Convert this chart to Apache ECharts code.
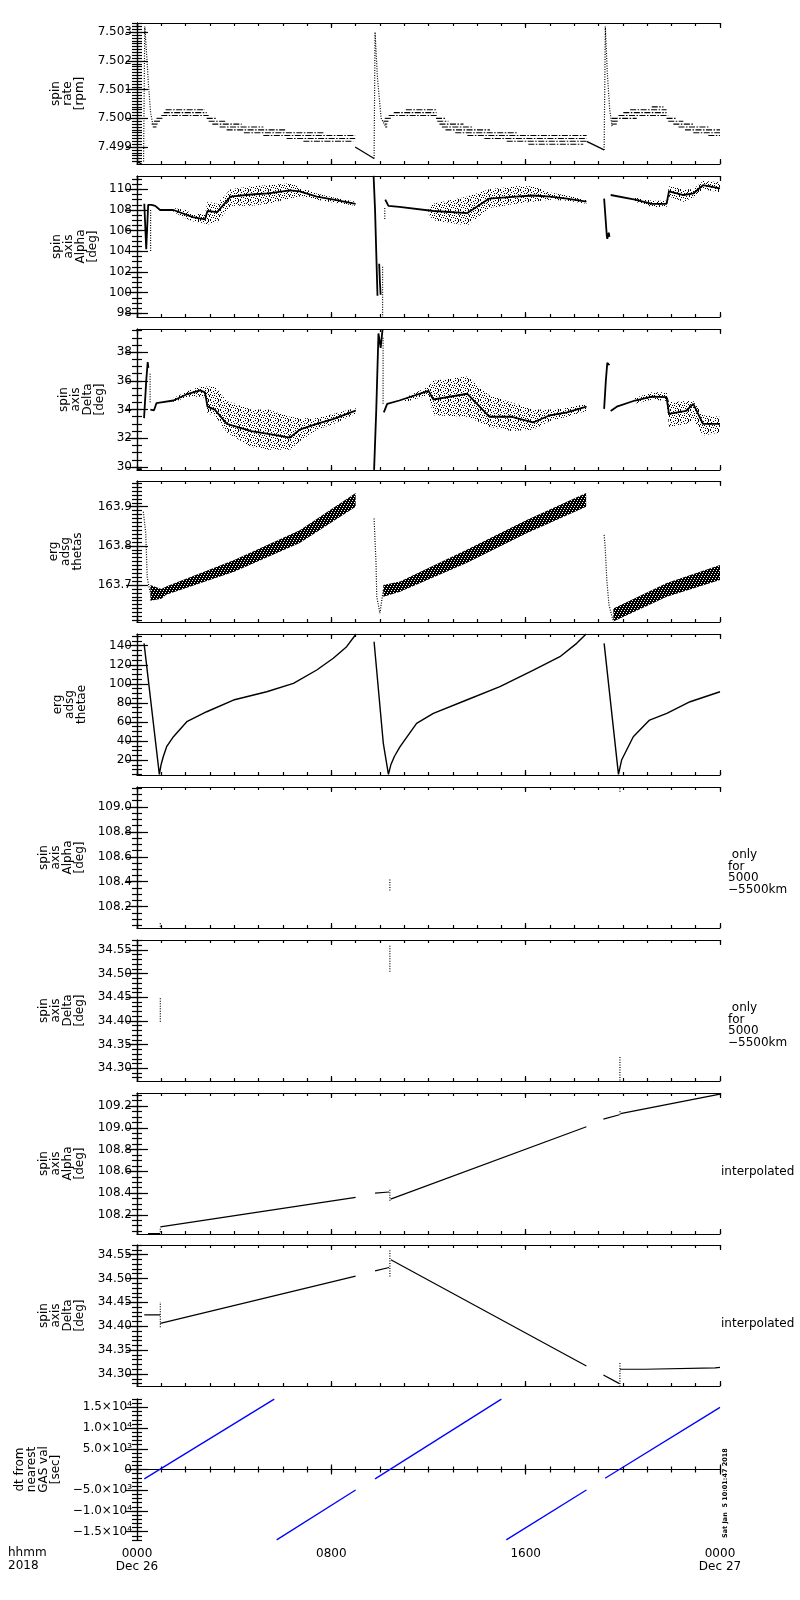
<!DOCTYPE html>
<html>
<head>
<meta charset="utf-8">
<script src="https://cdn.jsdelivr.net/npm/echarts@6/dist/echarts.min.js"></script>
<style>
  html, body { margin: 0; background: #fff; }
  #chart { width: 800px; height: 1600px; }
</style>
</head>
<body>
<div id="chart"></div>
<script>
// ---- time axis (hours since 0000 Dec 26) ----
const hours = [0, 8, 16, 24];
const hourLabels = ['0000\nDec 26', '0800', '1600', '0000\nDec 27'];

// ---- tick labels ----
const rateTicks = [7.499, 7.500, 7.501, 7.502, 7.503];
const alphaTicks = [98, 100, 102, 104, 106, 108, 110];
const deltaTicks = [30, 32, 34, 36, 38];
const thetasTicks = [163.7, 163.8, 163.9];
const thetaeTicks = [20, 40, 60, 80, 100, 120, 140];
const alphaOnlyTicks = [108.2, 108.4, 108.6, 108.8, 109.0];
const deltaOnlyTicks = [34.30, 34.35, 34.40, 34.45, 34.50, 34.55];
const alphaInterpTicks = [108.2, 108.4, 108.6, 108.8, 109.0, 109.2];
const dtTicks = [-15000, -10000, -5000, 0, 5000, 10000, 15000];
const dtTickLabels = ['\u22121.5\u00d710\u2074', '\u22121.0\u00d710\u2074', '\u22125.0\u00d710\u00b3', '0',
  '5.0\u00d710\u00b3', '1.0\u00d710\u2074', '1.5\u00d710\u2074'];

// ---- spin rate: quantized rows [start h, end h, rpm] ----
const rateRows = [
  [1.18, 2.8, 7.5003], [1.1, 2.87, 7.5002], [1.0, 2.95, 7.5001],
  [0.8, 1.1, 7.5000], [2.87, 3.28, 7.5000],
  [0.7, 1.0, 7.4999], [2.95, 3.69, 7.4999],
  [0.6, 0.85, 7.4998], [3.1, 4.31, 7.4998],
  [0.65, 0.8, 7.4997], [3.4, 5.2, 7.4997],
  [3.69, 6.16, 7.4996],
  [4.4, 7.67, 7.4995],
  [5.2, 8.98, 7.4994],
  [6.16, 8.98, 7.4993],
  [6.85, 8.9, 7.4992],
  [11.07, 12.31, 7.5003], [10.57, 12.33, 7.5002], [10.36, 12.36, 7.5001],
  [10.2, 10.45, 7.5000], [12.31, 12.68, 7.5000],
  [10.15, 10.35, 7.4999], [12.36, 12.82, 7.4999],
  [10.2, 10.3, 7.4998], [12.45, 13.44, 7.4998],
  [10.22, 10.3, 7.4997], [12.55, 13.85, 7.4997],
  [12.7, 14.53, 7.4996],
  [13.1, 15.63, 7.4995],
  [13.6, 18.51, 7.4994],
  [14.3, 18.51, 7.4993],
  [15.22, 18.51, 7.4992],
  [16.11, 18.37, 7.4991],
  [21.19, 21.67, 7.5004],
  [20.3, 21.8, 7.5003], [20.02, 21.8, 7.5002], [19.82, 21.87, 7.5001],
  [19.54, 20.57, 7.5000], [21.8, 22.22, 7.5000],
  [19.54, 19.82, 7.4999], [21.87, 22.49, 7.4999],
  [19.54, 19.75, 7.4998], [22.08, 22.9, 7.4998],
  [22.29, 23.52, 7.4997],
  [22.56, 24, 7.4996],
  [22.9, 24, 7.4995],
  [23.52, 24, 7.4994]
];
const rateSlopes = [
  [[0, 7.4985], [0.2, 7.4984]],
  [[8.98, 7.4990], [9.76, 7.4986]],
  [[18.51, 7.4992], [19.23, 7.4989]]
];
const rateSpikes = [
  [[0.27, 7.4985], [0.32, 7.5032], [0.4, 7.5022], [0.47, 7.5012], [0.56, 7.5002], [0.65, 7.4998]],
  [[9.76, 7.4986], [9.8, 7.5030], [9.9, 7.5014], [10.05, 7.5000], [10.25, 7.4997]],
  [[19.23, 7.4989], [19.28, 7.5032], [19.36, 7.5016], [19.46, 7.5003], [19.56, 7.4997]]
];

// ---- spin axis alpha ----
const alphaLines = [
  [[0.3, 108.6], [0.38, 104.2], [0.46, 108.5], [0.6, 108.5], [0.75, 108.4], [0.95, 108.0], [1.5, 108.0],
   [2.3, 107.3], [2.8, 107.1], [2.9, 107.9], [3.3, 107.8], [3.85, 109.3], [4.7, 109.5], [5.4, 109.6],
   [6.3, 109.9], [6.7, 109.8], [7.4, 109.3], [8.1, 109.0], [9.0, 108.6]],
  [[9.74, 111.3], [9.8, 108.0], [9.86, 103.0], [9.9, 99.7]],
  [[9.97, 102.8], [10.0, 101.0], [10.03, 99.8]],
  [[10.22, 109.0], [10.35, 108.4], [10.8, 108.3], [12.2, 107.9], [13.6, 107.7], [14.5, 109.1],
   [15.6, 109.3], [16.3, 109.4], [17.0, 109.3], [17.7, 109.1], [18.5, 108.8]],
  [[19.23, 109.1], [19.34, 105.5], [19.36, 105.2], [19.42, 105.8], [19.45, 105.4]],
  [[19.5, 109.45], [20.5, 109.0], [21.2, 108.6], [21.8, 108.6], [21.9, 109.8], [22.5, 109.45],
   [22.9, 109.6], [23.3, 110.4], [24, 110.1]]
];
const alphaDots = [
  [[0.56, 108.0], [0.56, 104.0]],
  [[10.11, 102.5], [10.11, 97.6]],
  [[10.2, 108.2], [10.2, 107.0]]
];
const alphaBands = [
  [[1.5, 107.8, 108.2], [2.0, 107.2, 108.0], [2.3, 106.9, 107.6], [2.8, 106.7, 107.6], [2.9, 106.6, 108.8],
   [3.3, 106.8, 108.6], [3.85, 108.4, 110.0], [4.7, 108.4, 110.3], [5.4, 108.6, 110.4], [6.3, 109.1, 110.6],
   [6.7, 109.3, 110.2], [7.4, 109.0, 109.6], [8.1, 108.7, 109.2], [9.0, 108.4, 108.8]],
  [[12.0, 107.6, 108.2], [12.2, 107.0, 108.6], [13.6, 106.5, 109.3], [14.5, 108.2, 110.0], [15.6, 108.6, 110.3],
   [16.3, 108.8, 110.3], [17.0, 109.0, 109.7], [17.7, 108.9, 109.4], [18.5, 108.6, 109.0]],
  [[20.5, 108.8, 109.2], [21.2, 108.3, 108.9], [21.8, 108.3, 108.9], [21.9, 109.3, 110.3], [22.5, 108.8, 110.0],
   [22.9, 109.2, 110.0], [23.3, 110.0, 110.8], [24, 109.7, 110.7]]
];

// ---- spin axis delta ----
const deltaLines = [
  [[0, 29.85], [0.2, 29.85]],
  [[0.29, 33.4], [0.38, 36.0], [0.44, 37.3], [0.47, 36.9]],
  [[0.55, 34.0], [0.7, 33.95], [0.8, 34.44], [1.0, 34.5], [1.5, 34.63], [2.1, 35.1], [2.6, 35.33],
   [2.8, 35.2], [2.9, 34.2], [3.2, 34.0], [3.7, 33.0], [4.7, 32.5], [5.4, 32.3], [6.3, 32.05],
   [6.7, 32.6], [7.4, 33.0], [8.1, 33.35], [9.0, 33.93]],
  [[9.76, 29.8], [9.85, 34.0], [9.94, 39.3], [10.03, 38.3], [10.11, 39.6]],
  [[10.16, 33.8], [10.3, 34.4], [10.8, 34.63], [12.0, 35.3], [12.2, 34.7], [13.6, 35.1], [14.5, 33.5],
   [15.4, 33.5], [16.3, 33.1], [17.0, 33.6], [17.7, 33.8], [18.5, 34.2]],
  [[19.23, 34.05], [19.3, 36.0], [19.36, 37.25], [19.45, 37.1]],
  [[19.5, 33.9], [19.75, 34.2], [20.5, 34.63], [21.2, 34.9], [21.8, 34.86], [21.9, 33.7], [22.6, 33.9],
   [22.9, 34.4], [23.3, 33.0], [24, 33.0]]
];
const deltaDots = [
  [[0.54, 36.5], [0.54, 34.4]],
  [[10.13, 39.0], [10.13, 34.4]]
];
const deltaBands = [
  [[1.5, 34.5, 34.8], [2.1, 34.9, 35.3], [2.6, 34.9, 35.6], [2.85, 34.8, 35.6], [2.9, 33.7, 35.6],
   [3.2, 33.6, 35.6], [3.7, 32.4, 34.6], [4.7, 31.4, 34.0], [5.4, 31.2, 34.0], [6.3, 31.2, 33.5],
   [6.7, 31.8, 33.4], [7.4, 32.6, 33.4], [8.1, 33.0, 33.7], [9.0, 33.7, 34.1]],
  [[11.0, 34.5, 34.8], [12.0, 35.0, 35.6], [12.2, 33.6, 36.0], [13.6, 33.5, 36.3], [14.5, 32.8, 35.0],
   [15.4, 32.5, 34.5], [16.3, 32.6, 34.0], [17.0, 33.2, 34.0], [17.7, 33.5, 34.1], [18.5, 33.9, 34.4]],
  [[20.5, 34.4, 34.8], [21.2, 34.7, 35.2], [21.8, 34.6, 35.2], [21.9, 32.8, 34.5], [22.6, 33.0, 34.6],
   [22.9, 33.3, 34.6], [23.3, 32.2, 33.6], [24, 32.4, 33.5]]
];

// ---- erg adsg thetas ----
const thetasSpikes = [
  [[0.26, 163.887], [0.36, 163.833], [0.42, 163.72], [0.51, 163.69], [0.55, 163.68]],
  [[9.76, 163.87], [9.84, 163.756], [9.87, 163.67], [10.0, 163.628], [10.14, 163.688]],
  [[19.23, 163.828], [19.27, 163.80], [19.34, 163.713], [19.43, 163.649], [19.61, 163.607]]
];
const thetasBands = [
  [[0.55, 163.66, 163.70], [1.0, 163.665, 163.69], [1.2, 163.675, 163.696], [4.0, 163.734, 163.764],
   [6.7, 163.807, 163.84], [9.0, 163.90, 163.935]],
  [[10.14, 163.67, 163.70], [10.83, 163.683, 163.709], [13.57, 163.756, 163.79],
   [16.04, 163.832, 163.866], [18.49, 163.90, 163.935]],
  [[19.61, 163.607, 163.64], [21.81, 163.67, 163.705], [24, 163.713, 163.751]]
];

// ---- erg adsg thetae ----
const thetaeLines = [
  [[0.29, 142.5], [0.92, 5], [0.99, 15], [1.08, 23.5], [1.22, 34], [1.5, 44.5], [2.05, 60.2], [2.87, 70.7],
   [3.97, 83], [5.34, 91.7], [6.44, 100.5], [7.4, 114.5], [8.08, 126.8], [8.63, 139], [9.02, 152.3]],
  [[9.76, 144.2], [10.14, 37.5], [10.35, 5], [10.45, 15], [10.6, 24], [10.83, 34], [11.51, 58.5],
   [12.2, 69], [13.57, 83], [14.94, 97], [16.32, 114.5], [17.41, 128.5], [18.1, 142.5], [18.49, 152.3]],
  [[19.23, 142.5], [19.82, 5], [19.95, 20], [20.43, 44.5], [21.1, 62], [21.81, 69], [22.77, 81.2], [24, 91.7]]
];

// ---- only for 5000-5500km ----
const alphaOnly = [
  [[0.96, 108.04], [0.96, 108.08]],
  [[10.41, 108.33], [10.41, 108.43]],
  [[19.88, 109.12], [19.88, 109.16]]
];
const deltaOnly = [
  [[0.96, 34.398], [0.96, 34.451]],
  [[10.41, 34.504], [10.41, 34.56]],
  [[19.88, 34.274], [19.88, 34.325]]
];

// ---- interpolated ----
const alphaInterp = [
  [[0.45, 108.027], [0.95, 108.027]],
  [[0.96, 108.09], [9.0, 108.36]],
  [[9.8, 108.40], [10.38, 108.41]],
  [[10.44, 108.345], [18.5, 109.01]],
  [[19.2, 109.08], [19.86, 109.12]],
  [[19.9, 109.13], [24, 109.31]]
];
const deltaInterp = [
  [[0.3, 34.424], [0.95, 34.424]],
  [[0.96, 34.406], [9.0, 34.505]],
  [[9.8, 34.516], [10.38, 34.523]],
  [[10.45, 34.539], [18.5, 34.317]],
  [[19.2, 34.298], [19.86, 34.28]],
  [[19.88, 34.31], [20.9, 34.31], [20.95, 34.313], [23.8, 34.313], [23.85, 34.314], [24, 34.314]]
];

// ---- dt from nearest GAS val ----
const dtSegs = [
  [[0.3, -2260], [5.65, 17000]],
  [[5.75, -17000], [9.0, -4940]],
  [[9.8, -2260], [15.0, 17000]],
  [[15.2, -17000], [18.5, -4940]],
  [[19.27, -2100], [24, 15000]]
];

// ---- layout ----
const FONT = 'DejaVu Sans';
const tops = [23, 176, 329, 481, 634, 787, 940, 1093, 1245, 1399];
const PH = 141;
const panels = [
  { name: 'spin\nrate\n[rpm]', nameX: 86, range: [7.49841, 7.50332], ticks: rateTicks, minor: 0.0001, dec: 3 },
  { name: 'spin\naxis\nAlpha\n[deg]', nameX: 99, range: [97.64, 111.29], ticks: alphaTicks, minor: 0.5, dec: 0 },
  { name: 'spin\naxis\nDelta\n[deg]', nameX: 106, range: [29.79, 39.61], ticks: deltaTicks, minor: 0.5, dec: 0 },
  { name: 'erg\nadsg\nthetas', nameX: 84, range: [163.6056, 163.9656], ticks: thetasTicks, minor: 0.01, dec: 1 },
  { name: 'erg\nadsg\nthetae', nameX: 88, range: [4.3, 152.3], ticks: thetaeTicks, minor: 5, dec: 0 },
  { name: 'spin\naxis\nAlpha\n[deg]', nameX: 86, range: [108.03, 109.158], ticks: alphaOnlyTicks, minor: 0.05, dec: 1 },
  { name: 'spin\naxis\nDelta\n[deg]', nameX: 86, range: [34.273, 34.571], ticks: deltaOnlyTicks, minor: 0.01, dec: 2 },
  { name: 'spin\naxis\nAlpha\n[deg]', nameX: 86, range: [108.024, 109.32], ticks: alphaInterpTicks, minor: 0.05, dec: 1 },
  { name: 'spin\naxis\nDelta\n[deg]', nameX: 86, range: [34.275, 34.570], ticks: deltaOnlyTicks, minor: 0.01, dec: 2 },
  { name: 'dt from\nnearest\nGAS val\n[sec]', nameX: 62, range: [-17020, 17020], ticks: dtTicks, minor: 1000, dec: null }
];

function steps(lo, hi, step) {
  const out = [];
  for (let k = Math.ceil(lo / step - 1e-9); k * step <= hi + 1e-9; k++) out.push(+(k * step).toFixed(6));
  return out;
}

// small fixed fill textures: speckle for the scattered clouds, vertical strokes for thetas
function texture(rows) {
  const c = document.createElement('canvas');
  c.width = rows[0].length;
  c.height = rows.length;
  const ctx = c.getContext('2d');
  ctx.fillStyle = '#000';
  rows.forEach(function (r, y) {
    for (let x = 0; x < r.length; x++) if (r[x] === '#') ctx.fillRect(x, y, 1, 1);
  });
  return { image: c, repeat: 'repeat' };
}
const speckle = texture([
  '#....#..#.',
  '...#....#.',
  '.#.....#..',
  '....#.#...',
  '#.......#.',
  '..#.#....#',
  '......#..#',
  '.#.#......',
  '.....#.#..',
  '#.......#.'
]);
const strokes = texture(['##.', '###', '#.#', '###', '.##', '###']);

const black = { color: '#000', width: 1.2 };
const grids = [], xAxes = [], yAxes = [], series = [];

panels.forEach(function (p, i) {
  grids.push({ left: 137, top: tops[i], width: 583, height: PH, show: false, containLabel: false, outerBoundsMode: 'none' });
  const last = i === panels.length - 1;
  const minorX = steps(0, 24, 1);
  const minorY = steps(p.range[0], p.range[1], p.minor);
  const xBase = { gridIndex: i, type: 'value', min: 0, max: 24, splitLine: { show: false } };
  xAxes.push(
    Object.assign({}, xBase, {
      position: 'bottom', axisLine: { show: true, lineStyle: black },
      axisTick: { show: true, inside: true, length: 5, customValues: hours, lineStyle: black },
      axisLabel: {
        show: last, customValues: hours, margin: 7, color: '#000', fontFamily: FONT, fontSize: 12, lineHeight: 13,
        formatter: function (v) { return hourLabels[hours.indexOf(v)]; }
      }
    }),
    Object.assign({}, xBase, {
      position: 'bottom', axisLine: { show: false },
      axisTick: { show: true, inside: true, length: 3, customValues: minorX, lineStyle: black },
      axisLabel: { show: false }
    }),
    Object.assign({}, xBase, {
      position: 'top', axisLine: { show: true, lineStyle: black },
      axisTick: { show: true, inside: true, length: 5, customValues: hours, lineStyle: black },
      axisLabel: { show: false }
    }),
    Object.assign({}, xBase, {
      position: 'top', axisLine: { show: false },
      axisTick: { show: true, inside: true, length: 3, customValues: minorX, lineStyle: black },
      axisLabel: { show: false }
    })
  );
  const yBase = { gridIndex: i, type: 'value', min: p.range[0], max: p.range[1], splitLine: { show: false } };
  yAxes.push(
    Object.assign({}, yBase, {
      position: 'left', axisLine: { show: true, lineStyle: black },
      axisTick: { show: true, inside: true, length: 11, customValues: p.ticks, lineStyle: black },
      axisLabel: {
        customValues: p.ticks, margin: 5, color: '#000', fontFamily: FONT, fontSize: 12,
        formatter: function (v) {
          if (p.dec === null) return dtTickLabels[dtTicks.indexOf(v)];
          return v.toFixed(p.dec);
        }
      }
    }),
    Object.assign({}, yBase, {
      position: 'left', axisLine: { show: false },
      axisTick: { show: true, inside: true, length: 5, customValues: minorY, lineStyle: black },
      axisLabel: { show: false }
    }),
    Object.assign({}, yBase, {
      position: 'right', axisLine: { show: true, lineStyle: black },
      axisTick: { show: true, inside: true, length: 11, customValues: p.ticks, lineStyle: black },
      axisLabel: { show: false }
    }),
    Object.assign({}, yBase, {
      position: 'right', axisLine: { show: false },
      axisTick: { show: true, inside: true, length: 5, customValues: minorY, lineStyle: black },
      axisLabel: { show: false }
    })
  );
});

function line(gi, pts, style) {
  return {
    type: 'line', xAxisIndex: gi * 4, yAxisIndex: gi * 4, data: pts, symbol: 'none', silent: true, z: 3,
    lineStyle: Object.assign({ color: '#000', width: 1 }, style || {})
  };
}
function dotted(gi, pts) { return line(gi, pts, { type: [1, 1.5], width: 1.2 }); }

function band(gi, pts, fill) {
  return {
    type: 'custom', xAxisIndex: gi * 4, yAxisIndex: gi * 4, data: pts, clip: true, silent: true, z: 2,
    encode: { x: 0, y: [1, 2] },
    renderItem: function (params, api) {
      if (params.dataIndexInside !== 0) return null;
      const n = params.dataInsideLength || pts.length;
      const upper = [], lower = [];
      for (let k = 0; k < n; k++) {
        upper.push(api.coord([api.value(0, k), api.value(2, k)]));
        lower.unshift(api.coord([api.value(0, k), api.value(1, k)]));
      }
      return { type: 'polygon', shape: { points: upper.concat(lower) }, style: { fill: fill } };
    }
  };
}

// panel 1: quantized spin rate rows
series.push({
  type: 'custom', xAxisIndex: 0, yAxisIndex: 0, data: rateRows, clip: true, silent: true,
  encode: { x: [0, 1], y: 2 },
  renderItem: function (params, api) {
    const a = api.coord([api.value(0), api.value(2)]);
    const b = api.coord([api.value(1), api.value(2)]);
    return {
      type: 'line', shape: { x1: a[0], y1: a[1], x2: b[0], y2: b[1] },
      style: { stroke: '#000', lineWidth: 1.1, lineDash: [6, 1.5, 1.5, 1.5] }
    };
  }
});
rateSlopes.forEach(function (s) { series.push(line(0, s, { width: 1.3 })); });
rateSpikes.forEach(function (s) { series.push(dotted(0, s)); });

// panel 2 / 3: spin axis clouds
alphaBands.forEach(function (b) { series.push(band(1, b, speckle)); });
alphaLines.forEach(function (s) { series.push(line(1, s, { width: 1.8 })); });
alphaDots.forEach(function (s) { series.push(dotted(1, s)); });
deltaBands.forEach(function (b) { series.push(band(2, b, speckle)); });
deltaLines.forEach(function (s) { series.push(line(2, s, { width: 1.8 })); });
deltaDots.forEach(function (s) { series.push(dotted(2, s)); });

// panel 4: thetas
thetasBands.forEach(function (b) { series.push(band(3, b, strokes)); });
thetasSpikes.forEach(function (s) { series.push(dotted(3, s)); });

// panel 5: thetae
thetaeLines.forEach(function (s) { series.push(line(4, s, { width: 1.4 })); });

// panels 6-9
alphaOnly.forEach(function (s) { series.push(dotted(5, s)); series.push(dotted(7, s)); });
deltaOnly.forEach(function (s) { series.push(dotted(6, s)); series.push(dotted(8, s)); });
alphaInterp.forEach(function (s) { series.push(line(7, s, { width: 1.2 })); });
deltaInterp.forEach(function (s) { series.push(line(8, s, { width: 1.2 })); });

// panel 10: dt
dtSegs.forEach(function (s) { series.push(line(9, s, { color: '#0000ff', width: 1.3 })); });

const graphic = panels.map(function (p, i) {
  return {
    type: 'text', x: p.nameX, y: tops[i] + PH / 2, rotation: Math.PI / 2, silent: true,
    style: { text: p.name, fontFamily: FONT, fontSize: 12, lineHeight: 12, align: 'center', verticalAlign: 'bottom', fill: '#000' }
  };
});
[tops[5], tops[6]].forEach(function (t) {
  graphic.push({
    type: 'text', x: 728, y: t + PH / 2 - 8, silent: true,
    style: { text: ' only\nfor\n5000\n\u22125500km', fontFamily: FONT, fontSize: 12, lineHeight: 11.5, align: 'left', verticalAlign: 'top', fill: '#000' }
  });
});
[tops[7], tops[8]].forEach(function (t) {
  graphic.push({
    type: 'text', x: 721, y: t + PH / 2 + 8, silent: true,
    style: { text: 'interpolated', fontFamily: FONT, fontSize: 12, align: 'left', verticalAlign: 'middle', fill: '#000' }
  });
});
graphic.push({
  type: 'text', x: 8, y: 1546, silent: true,
  style: { text: 'hhmm\n2018', fontFamily: FONT, fontSize: 12, lineHeight: 13, align: 'left', verticalAlign: 'top', fill: '#000' }
});
graphic.push({
  type: 'text', x: 725, y: 1538, rotation: Math.PI / 2, silent: true,
  style: { text: 'Sat Jan  5 10:01:47 2018', fontFamily: FONT, fontSize: 6.5, fontWeight: 'bold', align: 'left', verticalAlign: 'middle', fill: '#000' }
});

const chart = echarts.init(document.getElementById('chart'), null, { renderer: 'canvas' });
chart.setOption({
  animation: false,
  backgroundColor: '#fff',
  grid: grids,
  xAxis: xAxes,
  yAxis: yAxes,
  series: series,
  graphic: graphic
});
</script>
</body>
</html>
